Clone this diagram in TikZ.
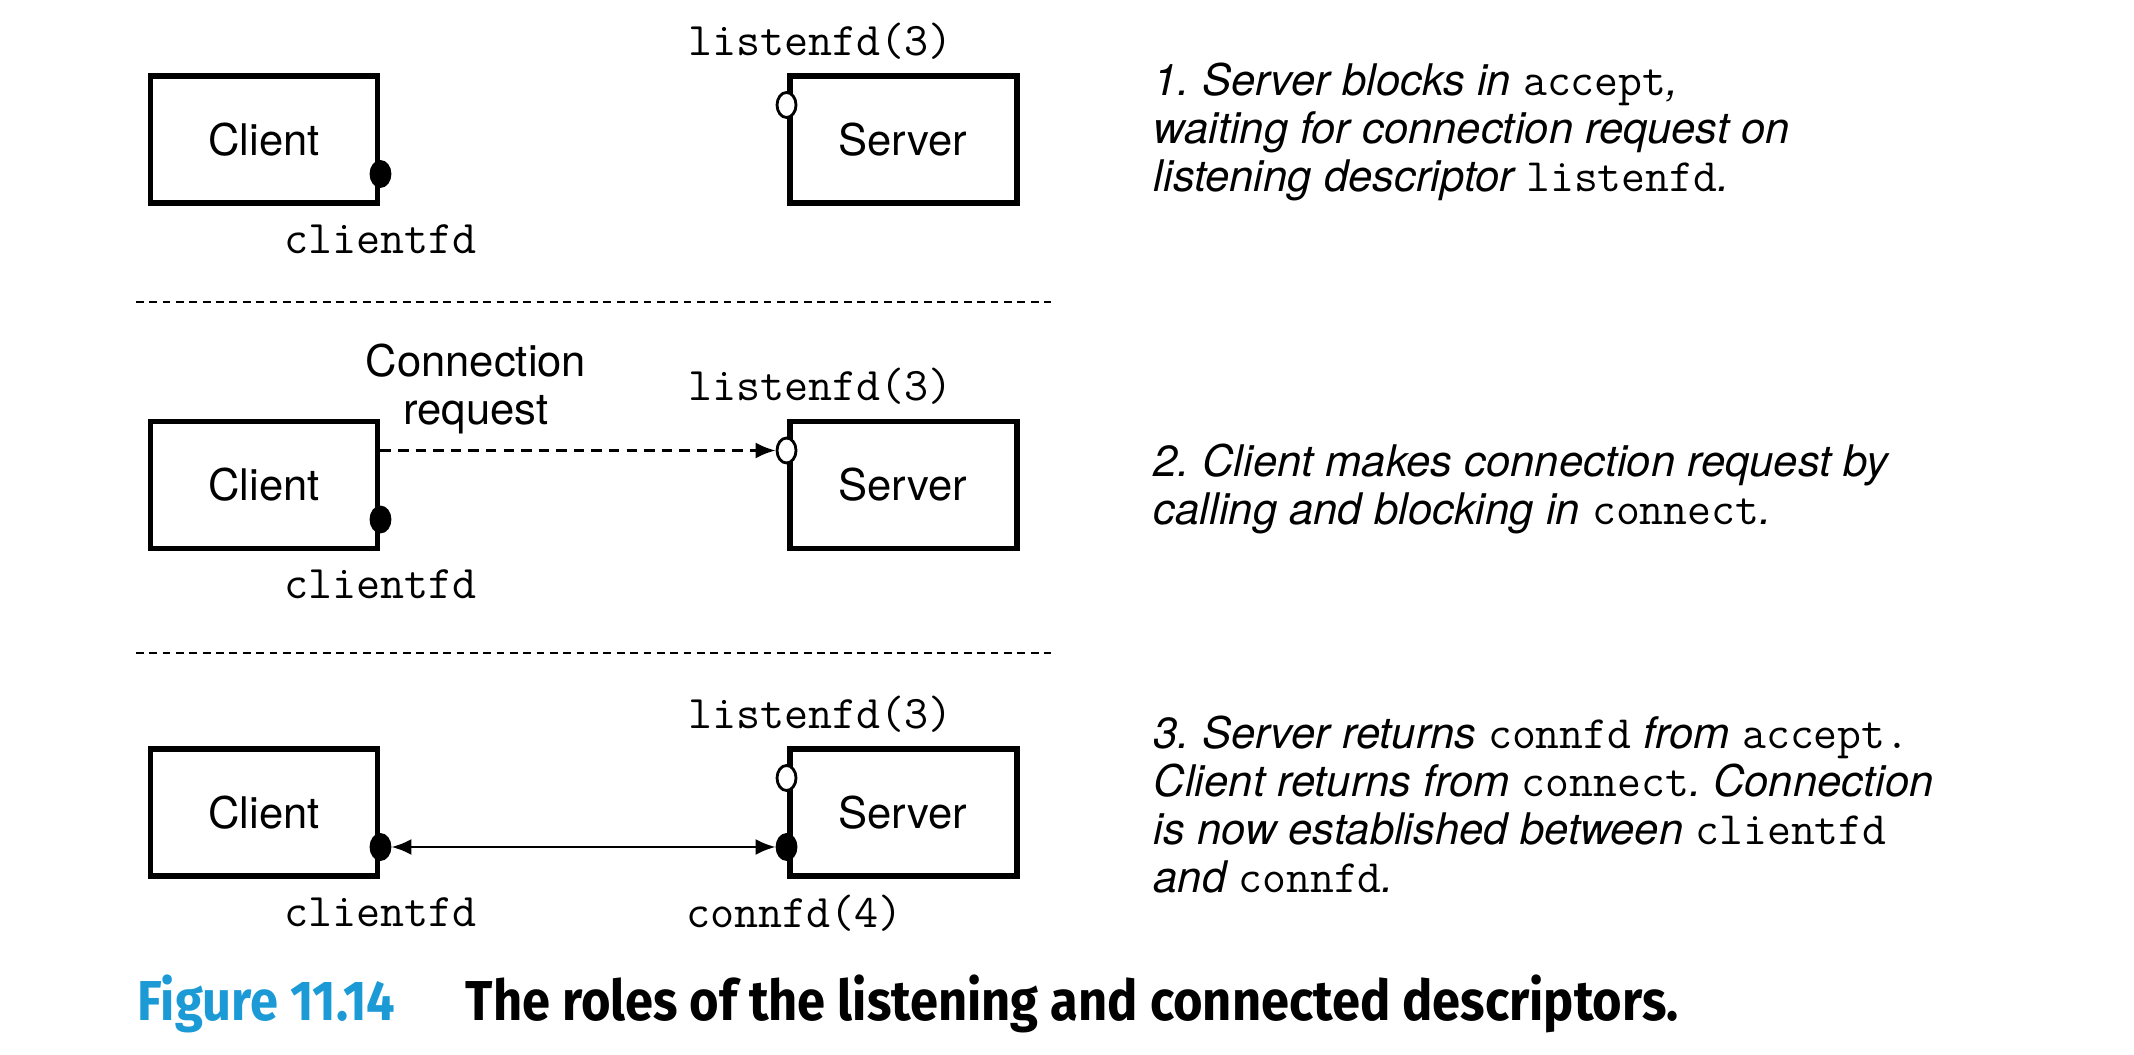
\documentclass[tikz,border=0pt]{standalone}
\usepackage{fontspec}
\setmainfont{TeX Gyre Heros}
\newfontfamily\capfont{Fira Sans}[FakeStretch=0.9]
\usepackage{tikz}
\usetikzlibrary{arrows.meta,positioning,calc,shapes.geometric}
\definecolor{figblue}{HTML}{1B9AD6}
\newcommand{\code}[1]{{\upshape\ttfamily\fontsize{13.2}{13.66}\selectfont #1}}
\frenchspacing

\begin{document}
\begin{tikzpicture}[font=\fontsize{12.4}{13.66}\selectfont,
  >={Latex[length=2mm,width=1.6mm]},
  box/.style={draw,line width=1.7pt,minimum width=2.27cm,minimum height=1.27cm,inner sep=0pt},
  fd/.style={font=\ttfamily\fontsize{13.3}{14}\selectfont,inner sep=0pt},
  opendot/.style={ellipse,draw,fill=white,line width=0.8pt,minimum width=0.19cm,minimum height=0.25cm,inner sep=0pt},
  fulldot/.style={opendot,fill=black},
  sep/.style={line width=0.7pt,dash pattern=on 2.2pt off 1.6pt},
  note/.style={anchor=west,align=left,font=\fontsize{12.4}{13.66}\selectfont\itshape,inner sep=0pt}]
  \useasboundingbox (0,0) rectangle (21.34,10.54);
  % the three steps
  \foreach \i/\y in {1/9.145,2/5.69,3/2.415} {
    \node[box] (cli\i) at (2.64,\y) {Client};
    \node[box] (srv\i) at (9.03,\y) {Server};
    \node[opendot] (lsn\i) at ($(srv\i.west)+(0,0.345)$) {};
    \node[fulldot] (cfd\i) at ($(cli\i.east)+(0,-0.345)$) {};
    \node[fd] (lsnlbl\i) at ($(srv\i.north west)+(0.34,0.32)$) {listenfd(3)};
    \node[fd] (cfdlbl\i) at ($(cli\i.south east)+(0,-0.33)$) {clientfd};
  }
  \node[align=center,inner sep=0pt] (req) at (4.76,6.655) {Connection\\request};
  \draw[line width=0.8pt,dash pattern=on 3pt off 2pt,->] (cli2.east |- lsn2) -- (lsn2.west);
  \node[fulldot] (cnd3) at ($(srv3.west)+(0,-0.345)$) {};
  \node[fd] (cndlbl) at ($(srv3.south west)+(0.08,-0.34)$) {connfd(4)};
  \draw[line width=0.8pt,<->] (cfd3) -- (cnd3);
  \draw[sep] (1.36,7.52) -- (10.51,7.52);
  \draw[sep] (1.36,4.01) -- (10.51,4.01);
  % notes
  \node[note] (n1) at (11.53,9.22) {1. Server blocks in \code{accept},\\waiting for connection request on\\listening descriptor \code{listenfd}.};
  \node[note] (n2) at (11.53,5.65) {2. Client makes connection request by\\calling and blocking in \code{connect}.};
  \node[note] (n3) at (11.53,2.49) {3. Server returns \code{connfd} from \code{accept.}\\Client returns from \code{connect}. Connection\\is now established between \code{clientfd}\\and \code{connfd}.};
  % caption
  \node[anchor=west,inner sep=0pt,text=figblue,font=\capfont\bfseries\fontsize{16}{18}\selectfont] (fig) at (1.37,0.50) {Figure 11.14};
  \node[anchor=west,inner sep=0pt,font=\capfont\bfseries\fontsize{16}{18}\selectfont] (ttl) at (4.65,0.50) {The roles of the listening and connected descriptors.};
\end{tikzpicture}
\end{document}
